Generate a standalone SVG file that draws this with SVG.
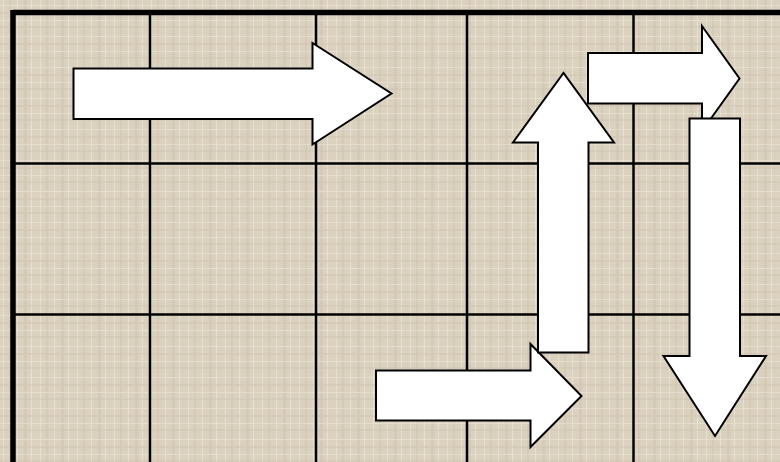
<svg xmlns="http://www.w3.org/2000/svg" width="780" height="462" viewBox="0 0 780 462">
<defs>
<pattern id="cloth" width="37" height="31" patternUnits="userSpaceOnUse">
<rect width="37" height="31" fill="#dbd1bf"/>
<rect x="3" y="0" width="1" height="31" fill="#ebe4d6" opacity="0.7"/>
<rect x="9" y="0" width="2" height="31" fill="#cfc4b0" opacity="0.6"/>
<rect x="17" y="0" width="1" height="31" fill="#eee8dc" opacity="0.6"/>
<rect x="24" y="0" width="3" height="31" fill="#cbc0ab" opacity="0.4"/>
<rect x="31" y="0" width="1" height="31" fill="#f0eadf" opacity="0.6"/>
<rect x="0" y="5" width="37" height="1" fill="#ece5d8" opacity="0.6"/>
<rect x="0" y="12" width="37" height="2" fill="#d0c5b1" opacity="0.5"/>
<rect x="0" y="20" width="37" height="1" fill="#efe9de" opacity="0.5"/>
<rect x="0" y="26" width="37" height="2" fill="#cdc2ae" opacity="0.4"/>
</pattern>
<style>
.grid{stroke:#000;stroke-width:2.5;fill:none}
.thick{stroke:#000;stroke-width:5.5;fill:none}
.arrow{fill:#fff;stroke:#000;stroke-width:2;stroke-linejoin:miter}
</style>
</defs>
<rect width="780" height="462" fill="url(#cloth)"/>
<g id="grid">
<line class="grid" x1="150" y1="12" x2="150" y2="462"/>
<line class="grid" x1="316" y1="12" x2="316" y2="462"/>
<line class="grid" x1="467" y1="12" x2="467" y2="462"/>
<line class="grid" x1="633.5" y1="12" x2="633.5" y2="462"/>
<line class="grid" x1="13" y1="163.5" x2="780" y2="163.5"/>
<line class="grid" x1="13" y1="314.5" x2="780" y2="314.5"/>
<line class="thick" x1="13" y1="12.5" x2="780" y2="12.5"/>
<line class="thick" x1="13" y1="10" x2="13" y2="462"/>
</g>
<g id="connectors">
<g id="arrow-top-left"><polygon class="arrow" points="73.5,68.5 312.5,68.5 312.5,43 391.5,93.5 312.5,144.5 312.5,119 73.5,119"/></g>
<g id="arrow-top-right"><polygon class="arrow" points="588,53 702,53 702,26 739.5,78.5 702,131 702,103.5 588,103.5"/></g>
<g id="arrow-down"><polygon class="arrow" points="689.5,118.5 740,118.5 740,356 766,356 715,436 663.5,356 689.5,356"/></g>
<g id="arrow-bottom"><polygon class="arrow" points="376,370.5 530.5,370.5 530.5,344 581.5,396 530.5,447 530.5,420.5 376,420.5"/></g>
<g id="arrow-up"><polygon class="arrow" points="538,352.5 538,142.5 513,142.5 563.5,73 614,142.5 588.5,142.5 588.5,352.5"/></g>
</g>
</svg>
